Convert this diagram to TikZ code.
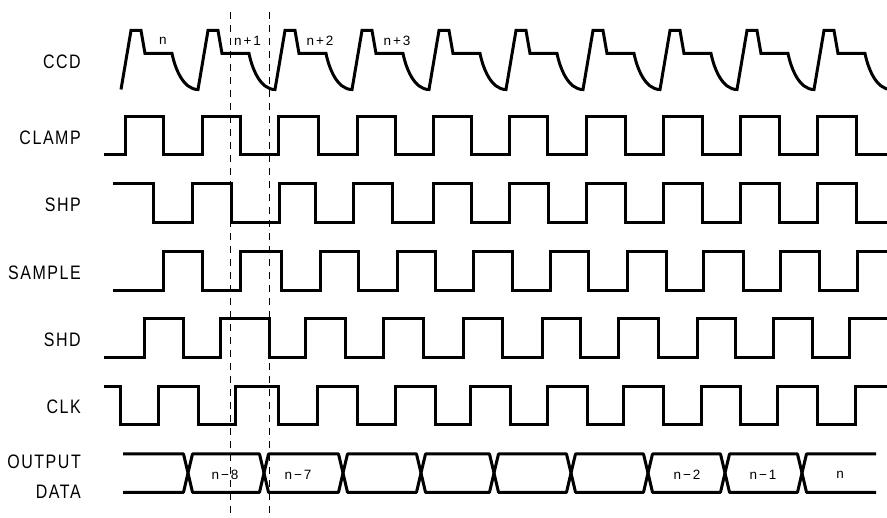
\documentclass[tikz,border=0pt]{standalone}
\usepackage{fontspec}
\setmainfont{Liberation Sans}
\newfontfamily\sigfont{Liberation Sans}[FakeStretch=0.82, LetterSpace=8]
\newfontfamily\tagfont{Liberation Sans}[LetterSpace=14]
\usepackage{tikz}
\usetikzlibrary{calc}

\begin{document}
\begin{tikzpicture}[x=1pt, y=-1pt,
  sig/.style={line width=3pt, black},
  marker/.style={line width=1.1pt, dash pattern=on 7pt off 6pt},
  siglbl/.style={anchor=east, inner sep=0pt, font=\sigfont\fontsize{19.5}{22}\selectfont},
  tag/.style={inner sep=0pt, font=\tagfont\fontsize{13.5}{16}\selectfont}]
  \useasboundingbox (0,0) rectangle (887,518);
  \clip (0,0) rectangle (887,518);

  % Signal names
  \node[siglbl] (lccd) at (81,62) {CCD};
  \node[siglbl] (lclamp) at (81,137.5) {CLAMP};
  \node[siglbl] (lshp) at (81,205) {SHP};
  \node[siglbl] (lsample) at (81,272.5) {SAMPLE};
  \node[siglbl] (lshd) at (81,340) {SHD};
  \node[siglbl] (lclk) at (81,407) {CLK};
  \node[siglbl] (lout) at (81,461.5) {OUTPUT};
  \node[siglbl] (ldata) at (81,492) {DATA};

  % CCD pixel waveform
  \draw[sig] (121,89.5) \foreach \b in {131,208,...,824} {
    -- (\b,30.5) -- (\b+10,30.5) -- (\b+14,53.5) -- (\b+41,53.5)
    .. controls (\b+44,68) and (\b+52,89.5) .. (\b+67,89.5) };
  \foreach \x/\lab [count=\i] in {163/n, 247.5/n+1, 320/n+2, 397/n+3}
    \node[tag] (px\i) at (\x,41) {\lab};

  % CLAMP
  \draw[sig] (104,155) \foreach \r/\f in {125/163, 202/240, 278/318, 357/395,
    433/471, 509/547, 586/625, 663/702, 740/779, 817/856} {
    -| (\r,117) -| (\f,155) } -- (890,155);

  % SHP
  \draw[sig] (113,183.3) -| (153,222.7) \foreach \r/\f in {192/231, 279/315,
    353/392, 433/471, 509/548, 586/625, 663/702, 740/779, 817/856} {
    -| (\r,183.3) -| (\f,222.7) } -- (890,222.7);

  % SAMPLE
  \draw[sig] (113,291) \foreach \r/\f in {163/202, 240/281, 320/358, 397/435,
    473/512, 550/588, 627/666, 703/743, 780/819} {
    -| (\r,251.7) -| (\f,291) } -| (857,251.7) -- (890,251.7);

  % SHD
  \draw[sig] (104,357.7) \foreach \r/\f in {144/183, 220/269, 305/345, 383/423,
    463/502, 542/580, 618/658, 697/735, 773/812} {
    -| (\r,319) -| (\f,357.7) } -| (849,319) -- (890,319);

  % CLK
  \draw[sig] (104,386.7) -| (120,424.3) \foreach \r/\f in {158/198, 235/278,
    317/357, 395/435, 470/510, 547/587, 623/663, 701/740, 777/817} {
    -| (\r,386.7) -| (\f,424.3) } -| (855,386.7) -- (890,386.7);

  % OUTPUT DATA bus
  \draw[sig, line join=bevel] (123,454) -- (183.5,454) -- (188,473)
    -- (183.5,492.3) -- (123,492.3);
  \foreach \a/\b in {188/264, 264/343, 343/421, 421/494, 494/571, 571/648,
    648/725, 725/802}
    \draw[sig, line join=bevel] (\a,473) -- (\a+4.5,454) -- (\b-4.5,454)
      -- (\b,473) -- (\b-4.5,492.3) -- (\a+4.5,492.3) -- cycle;
  \draw[sig, line join=bevel] (876,454) -- (806.5,454) -- (802,473)
    -- (806.5,492.3) -- (876,492.3);
  \foreach \x/\lab [count=\i] in {225/n−8, 298/n−7, 687/n−2, 763/n−1, 840/n}
    \node[tag] (dw\i) at (\x,474.5) {\lab};

  % Sampling instants
  \coordinate (d1a) at (230.5,12);
  \coordinate (d1b) at (230.5,518);
  \coordinate (d2a) at (269.5,12);
  \coordinate (d2b) at (269.5,518);
  \draw[marker] (d1a) -- (d1b);
  \draw[marker] (d2a) -- (d2b);
\end{tikzpicture}
\end{document}
